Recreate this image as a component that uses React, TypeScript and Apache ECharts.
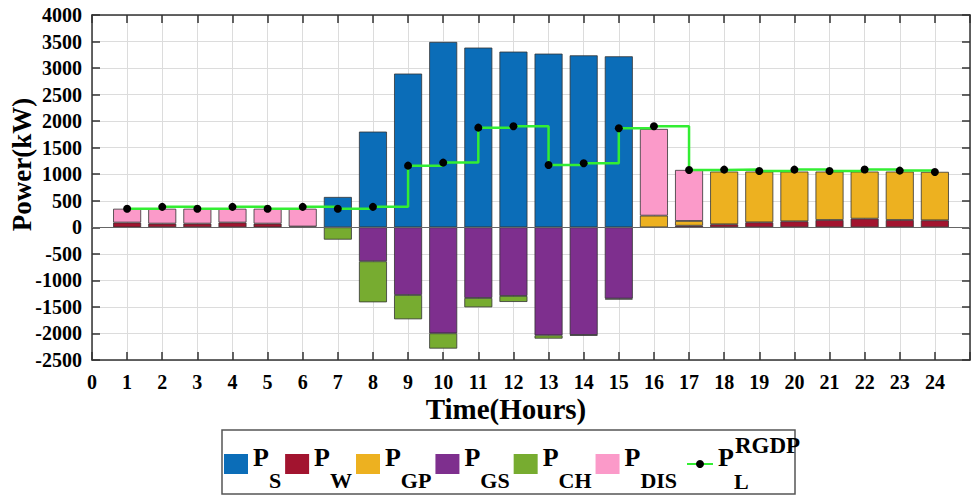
import React, { useEffect, useRef } from "react";
import * as echarts from "echarts";

// x-axis categories (hour ticks); the last one is the right edge of the frame
const xTicks = ["0", "1", "2", "3", "4", "5", "6", "7", "8", "9", "10", "11", "12", "13", "14", "15", "16", "17", "18", "19", "20", "21", "22", "23", "24", ""];
// values for hours 1..24
const pS = [0, 0, 0, 0, 0, 0, 572, 1803, 2896, 3493, 3386, 3310, 3272, 3240, 3222, 0, 0, 0, 0, 0, 0, 0, 0, 0];
const pW = [90, 70, 70, 90, 70, 15, 0, 0, 0, 0, 0, 0, 0, 0, 0, 0, 30, 57, 94, 113, 138, 163, 138, 132];
const pGP = [0, 0, 0, 0, 0, 0, 0, 0, 0, 0, 0, 0, 0, 0, 0, 220, 90, 993, 956, 937, 912, 887, 912, 913];
const pGS = [0, 0, 0, 0, 0, 0, 0, -640, -1275, -1997, -1331, -1293, -2035, -2028, -1343, 0, 0, 0, 0, 0, 0, 0, 0, 0];
const pCH = [0, 0, 0, 0, 0, 0, -232, -773, -458, -288, -176, -113, -62, -12, -17, 0, 0, 0, 0, 0, 0, 0, 0, 0];
const pDIS = [260, 280, 280, 260, 280, 335, 0, 0, 0, 0, 0, 0, 0, 0, 0, 1633, 961, 0, 0, 0, 0, 0, 0, 0];
const pLoad = [350, 385, 350, 385, 350, 385, 350, 385, 1162, 1219, 1878, 1903, 1175, 1206, 1866, 1903, 1081, 1087, 1062, 1087, 1062, 1090, 1068, 1043];

const barSeries = [
  { name: "P_S", data: pS, color: "#0b6db8" },
  { name: "P_W", data: pW, color: "#a2142f" },
  { name: "P_GP", data: pGP, color: "#edb120" },
  { name: "P_GS", data: pGS, color: "#7e2f8e" },
  { name: "P_CH", data: pCH, color: "#77ac30" },
  { name: "P_DIS", data: pDIS, color: "#fb9ac9" },
];
const lineName = "P_L^RGDP";

const F = "'Liberation Serif', 'Times New Roman', serif";
const H = 540; // chart box height (window shows the top 497 px)

export default function App() {
  const ref = useRef<HTMLDivElement>(null);
  useEffect(() => {
    if (!ref.current) return;
    const chart = echarts.init(ref.current, undefined, { renderer: "svg" });
    const rich = {
      p: { fontSize: 26, fontWeight: "bold", fontFamily: F, color: "#000", height: 26, padding: [10, 0, 24, 0] },
      s: { fontSize: 22, fontWeight: "bold", fontFamily: F, color: "#000", height: 22, padding: [35, 0, 3, 0] },
      u: { fontSize: 23, fontWeight: "bold", fontFamily: F, color: "#000", height: 23, padding: [0, 0, 37, 0] },
      l: { fontSize: 22, fontWeight: "bold", fontFamily: F, color: "#000", height: 22, width: 1, padding: [36, 0, 2, 0] },
    };
    const legendText = { fontFamily: F, fontWeight: "bold", color: "#000", rich };
    const fmt = (name: string) => {
      if (name === lineName) return "{p|P}{l|L}{u|RGDP}";
      const sub = name.split("_")[1];
      return `{p|P}{s|${sub}}`;
    };
    const axisLine = { show: true, lineStyle: { color: "#333", width: 1.5 } };
    const tick = { show: true, inside: true, length: 8, interval: 0, lineStyle: { color: "#333", width: 1.5 } };
    const series: any[] = barSeries.map((b, si) => ({
      name: b.name,
      type: "bar",
      stack: "total",
      barWidth: 28,
      itemStyle: { color: b.color, borderColor: "#333", borderWidth: 0.8 },
      data: [null, ...b.data.map((v) => (v === 0 ? null : v)), null],
      z: 2,
      ...(si === 0
        ? {
            markLine: {
              silent: true,
              symbol: "none",
              label: { show: false },
              lineStyle: { color: "#666", width: 1, type: "solid" },
              data: [{ yAxis: 0 }],
            },
          }
        : {}),
    }));
    series.push({
      name: lineName,
      type: "line",
      step: "end",
      data: [null, ...pLoad],
      symbol: "circle",
      symbolSize: 8,
      itemStyle: { color: "#000" },
      lineStyle: { color: "#33ee33", width: 2.5 },
      z: 5,
    });
    chart.setOption({
      animation: false,
      grid: { left: 92, right: 1, top: 15, bottom: H - 360, containLabel: false, outerBoundsMode: "none" },
      graphic: [
        {
          type: "rect",
          shape: { x: 222, y: 430, width: 573, height: 64 },
          style: { fill: "none", stroke: "#555", lineWidth: 1.5 },
          silent: true,
        },
      ],
      legend: [
        {
          left: 224,
          top: 444,
          padding: 0,
          itemGap: 4,
          itemWidth: 24,
          itemHeight: 20,
          selectedMode: false,
          data: barSeries.map((b) => ({ name: b.name, icon: "rect", itemStyle: { borderWidth: 0 } })),
          textStyle: legendText,
          formatter: fmt,
        },
        {
          left: 686,
          top: 434,
          padding: 0,
          itemWidth: 26,
          itemHeight: 10,
          selectedMode: false,
          data: [{ name: lineName }],
          textStyle: legendText,
          formatter: fmt,
        },
      ],
      xAxis: [
        {
          type: "category",
          data: xTicks,
          boundaryGap: false,
          name: "Time(Hours)",
          nameLocation: "middle",
          nameGap: 34,
          nameMoveOverlap: false,
          nameTextStyle: { fontFamily: F, fontWeight: "bold", fontSize: 29, color: "#000", padding: [0, 50, 0, 0] },
          axisLine: { ...axisLine, onZero: false },
          axisTick: tick,
          axisLabel: { interval: 0, fontFamily: F, fontWeight: "bold", fontSize: 20, color: "#000", margin: 12 },
          splitLine: { show: true, interval: 0, lineStyle: { color: "#dcdcdc", width: 1 } },
        },
        {
          type: "category",
          data: xTicks,
          boundaryGap: false,
          position: "top",
          axisLine: { ...axisLine, onZero: false },
          axisTick: tick,
          axisLabel: { show: false },
          splitLine: { show: false },
        },
      ],
      yAxis: [
        {
          type: "value",
          min: -2500,
          max: 4000,
          interval: 500,
          name: "Power(kW)",
          nameLocation: "middle",
          nameRotate: 90,
          nameGap: 57,
          nameMoveOverlap: false,
          nameTextStyle: { fontFamily: F, fontWeight: "bold", fontSize: 27, color: "#000", padding: [0, 0, 0, 46] },
          axisLine: { ...axisLine, onZero: false },
          axisTick: tick,
          axisLabel: {
            fontFamily: F,
            fontWeight: "bold",
            fontSize: 20,
            color: "#000",
            margin: 10,
            formatter: (v: number) => String(v),
          },
          splitLine: { show: true, lineStyle: { color: "#dcdcdc", width: 1 } },
        },
        {
          type: "value",
          position: "right",
          min: -2500,
          max: 4000,
          interval: 500,
          axisLine: { ...axisLine, onZero: false },
          axisTick: tick,
          axisLabel: { show: false },
          splitLine: { show: false },
        },
      ],
      series,
    });
    return () => chart.dispose();
  }, []);
  return <div ref={ref} style={{ position: "fixed", left: 0, top: 0, width: 971, height: H, background: "#fff" }} />;
}
